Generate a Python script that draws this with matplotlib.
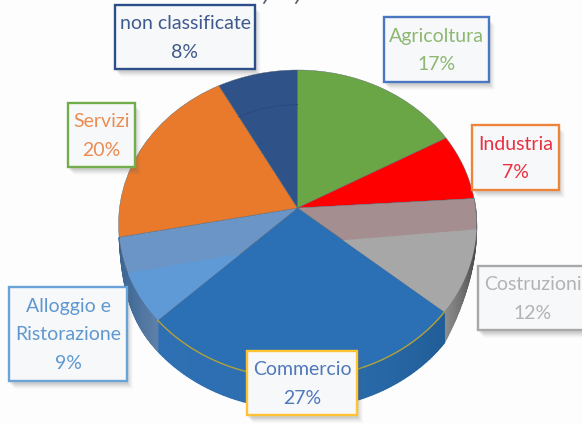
import numpy as np
import matplotlib
matplotlib.use("Agg")
import matplotlib.pyplot as plt
from matplotlib.colors import to_rgb
from matplotlib.patches import Rectangle, Polygon
from matplotlib.transforms import Transform

# Shares of the workforce by sector, clockwise from twelve o'clock
sectors = ["Agricoltura", "Industria", "Costruzioni", "Commercio",
           "Alloggio e\nRistorazione", "Servizi", "non classificate"]
shares = [17, 7, 12, 27, 9, 20, 8]
slice_colors = ["#6aa645", "#fe0000", "#a58e8f", "#2b70b4", "#6b95c6", "#e97a2b", "#2f5288"]
text_colors = ["#8db871", "#e9303f", "#b3b3b3", "#4f78ba", "#5f98d0", "#ec8c52", "#40598c"]
edge_colors = ["#4a76c2", "#ed843c", "#a8a8a8", "#fec232", "#6aa3d8", "#72ad4c", "#2c4f8a"]
box_spans = [(384, 489, 17, 82), (472, 559, 125, 190), (478, 590, 266, 330),
             (247, 357, 351, 415), (9, 127, 287, 381), (68, 135, 103, 167), (115, 255, 5, 69)]

CX, CY, RX, RY = 297.5, 224, 179, 154   # rim ellipse of the top face, in pixels
TILT = 0.104                            # perspective shift of the pie centre
DEPTH = 31                              # full height of the side wall


class TiltedDisk(Transform):
    """Projects the unit disk onto the top face of the 3D pie."""
    input_dims = output_dims = 2
    has_inverse = False

    def transform_non_affine(self, values):
        values = np.asarray(values, dtype=float)
        u, v = values[:, 0], values[:, 1]
        den = 1 + TILT * v
        up = u * np.sqrt(1 - TILT ** 2) / den
        vp = (v + TILT) / den
        return np.column_stack([CX + RX * up, CY - RY * vp])


fig = plt.figure(figsize=(5.82, 4.24), dpi=100, facecolor="#fdfdfd")
ax = fig.add_axes([0, 0, 1, 1])
wedges, _ = ax.pie(shares, startangle=90, counterclock=False, colors=slice_colors,
                   radius=1, wedgeprops={"linewidth": 0})
ax.set_aspect("auto")
ax.set_xlim(0, 582)
ax.set_ylim(424, 0)
ax.axis("off")

disk = TiltedDisk()
to_screen = disk + ax.transData
rim = 2 * np.pi * np.cumsum([0] + shares) / sum(shares)


def rim_points(t, scale=1.0):
    return disk.transform_non_affine(np.column_stack([scale * np.sin(t), scale * np.cos(t)]))


# Side wall: each visible arc is shaded along the rim, its height tapering at the ends
wall_specs = [
    (2, ["#9a9a9a", "#4c4c4c", "#8e8e8e"], lambda f: 0.12 + 0.88 * f ** 2),
    (3, ["#215e98", "#2c6eb0", "#2e70b3"], lambda f: np.ones_like(f)),
    (4, ["#5f80a8", "#466f9c", "#39618c"], lambda f: 1 - f ** 3),
]
for idx, stops, taper in wall_specs:
    ts = np.linspace(rim[idx], rim[idx + 1], 80)
    fs = np.linspace(0, 1, 80)
    pts = rim_points(ts)
    drop = np.column_stack([np.zeros_like(fs), DEPTH * taper(fs)])
    outer = pts + drop
    stop_rgb = np.array([to_rgb(c) for c in stops])
    ax.add_patch(Polygon(np.vstack([pts, outer[::-1]]), closed=True, facecolor=stops[1],
                         edgecolor="none", zorder=1))
    for i in range(len(ts) - 1):
        color = [np.interp(fs[i], [0, 0.45, 1], stop_rgb[:, ch]) for ch in range(3)]
        quad = np.array([pts[i], pts[i + 1], outer[i + 1], outer[i]])
        ax.add_patch(Polygon(quad, closed=True, facecolor=color, edgecolor=color,
                             linewidth=0.8, zorder=1.1))

for w in wedges:
    w.set_transform(to_screen)
    w.set_zorder(2)
    w.set_edgecolor("#5a6470")
    w.set_linewidth(0.3)

# Lighter lower part of the Costruzioni and Alloggio slices
for idx, shade, outline in [(2, "#a7a7a7", [(340, 240.5), (480, 229), (480, 330), (340, 330)]),
                            (4, "#5f9ad6", [(110, 276), (240, 254), (240, 340), (110, 340)])]:
    band = Polygon(outline, closed=True, facecolor=shade, edgecolor="none", zorder=3)
    ax.add_patch(band)
    band.set_clip_path(wedges[idx].get_path(), to_screen)

# Thin line along the front rim of Commercio
pts = rim_points(np.linspace(rim[3], rim[4], 120))
ax.plot(pts[:, 0], pts[:, 1], color="#b0a23c", lw=1.0, zorder=4)

# Faint inner arc across the navy slice
pts = rim_points(np.linspace(rim[6], rim[7], 40), scale=0.73)
ax.plot(pts[:, 0], pts[:, 1], color="#2a4a7e", lw=0.7, zorder=4)

# Descender strokes of the cropped line of text along the top edge
for x in (265, 297):
    ax.plot([x + 1, x - 1], [0, 3], color="#555b66", lw=1.2, zorder=4)

# Callout boxes with soft drop shadows
for name, share, tc, ec, (x0, x1, y0, y1) in zip(sectors, shares, text_colors, edge_colors, box_spans):
    for off, alpha in [(8, 0.03), (7, 0.04), (6, 0.05), (5, 0.06), (4, 0.07), (3, 0.08)]:
        ax.add_patch(Rectangle((x0 + off - 2, y0 + off), x1 - x0, y1 - y0, facecolor="#606060",
                               edgecolor="none", alpha=alpha, zorder=5))
    ax.add_patch(Rectangle((x0, y0), x1 - x0, y1 - y0, facecolor="#f7f8fa", edgecolor=ec,
                           linewidth=1.7, zorder=6))
    cx = min((x0 + x1) / 2, 533)
    ax.text(cx, (y0 + y1) / 2 + 1, f"{name}\n{share}%", color=tc, ha="center", va="center",
            family="Lato", fontsize=14, linespacing=1.8, zorder=7)

fig.savefig("out.png", dpi=100, facecolor=fig.get_facecolor())
